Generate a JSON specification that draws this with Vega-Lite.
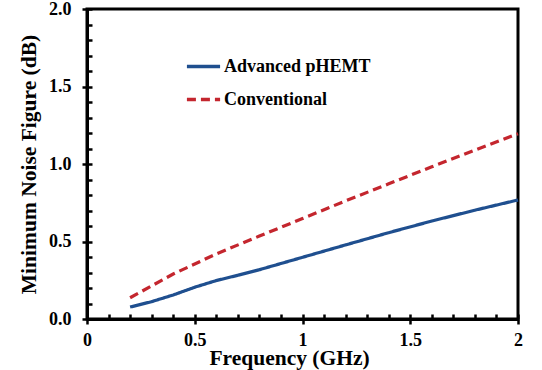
{
  "$schema": "https://vega.github.io/schema/vega-lite/v6.json",
  "autosize": "none",
  "width": 431,
  "height": 310,
  "padding": {"left": 87, "top": 9, "right": 24, "bottom": 51},
  "background": "white",
  "config": {
    "font": "Liberation Serif",
    "view": {"stroke": "black", "strokeWidth": 3},
    "axis": {"grid": false, "domainColor": "black", "tickColor": "black", "labelColor": "black", "titleColor": "black"}
  },
  "data": {
    "values": [
      {"f": 0.2, "nf": 0.077, "s": "Advanced pHEMT"},
      {"f": 0.3, "nf": 0.112, "s": "Advanced pHEMT"},
      {"f": 0.4, "nf": 0.155, "s": "Advanced pHEMT"},
      {"f": 0.5, "nf": 0.205, "s": "Advanced pHEMT"},
      {"f": 0.6, "nf": 0.248, "s": "Advanced pHEMT"},
      {"f": 0.7, "nf": 0.282, "s": "Advanced pHEMT"},
      {"f": 0.8, "nf": 0.318, "s": "Advanced pHEMT"},
      {"f": 1.0, "nf": 0.398, "s": "Advanced pHEMT"},
      {"f": 1.2, "nf": 0.478, "s": "Advanced pHEMT"},
      {"f": 1.4, "nf": 0.557, "s": "Advanced pHEMT"},
      {"f": 1.6, "nf": 0.632, "s": "Advanced pHEMT"},
      {"f": 1.8, "nf": 0.702, "s": "Advanced pHEMT"},
      {"f": 2.0, "nf": 0.768, "s": "Advanced pHEMT"},
      {"f": 0.2, "nf": 0.137, "s": "Conventional"},
      {"f": 0.4, "nf": 0.29, "s": "Conventional"},
      {"f": 0.6, "nf": 0.42, "s": "Conventional"},
      {"f": 0.8, "nf": 0.535, "s": "Conventional"},
      {"f": 1.0, "nf": 0.648, "s": "Conventional"},
      {"f": 1.2, "nf": 0.762, "s": "Conventional"},
      {"f": 1.4, "nf": 0.872, "s": "Conventional"},
      {"f": 1.6, "nf": 0.982, "s": "Conventional"},
      {"f": 1.8, "nf": 1.09, "s": "Conventional"},
      {"f": 2.0, "nf": 1.195, "s": "Conventional"}
    ]
  },
  "layer": [
    {
      "mark": {"type": "point", "opacity": 0},
      "encoding": {
        "x": {"field": "f", "type": "quantitative",
          "scale": {"domain": [0, 2], "nice": false},
          "axis": {"orient": "bottom", "values": [0,0.1,0.2,0.3,0.4,0.5,0.6,0.7,0.8,0.9,1,1.1,1.2,1.3,1.4,1.5,1.6,1.7,1.8,1.9,2], "labels": false, "domain": false, "title": null, "offset": -5, "tickSize": 5, "tickWidth": 2.5}},
        "y": {"field": "nf", "type": "quantitative",
          "scale": {"domain": [0, 2], "nice": false},
          "axis": {"orient": "left", "values": [0,0.1,0.2,0.3,0.4,0.5,0.6,0.7,0.8,0.9,1,1.1,1.2,1.3,1.4,1.5,1.6,1.7,1.8,1.9,2], "labels": false, "domain": false, "title": null, "offset": -5, "tickSize": 5, "tickWidth": 2.5}}
      }
    },
    {
      "mark": {"type": "line", "strokeWidth": 3.2},
      "encoding": {
        "x": {"field": "f", "type": "quantitative",
          "axis": {"orient": "bottom", "values": [0, 0.5, 1, 1.5, 2], "format": "~g", "domainWidth": 3, "tickSize": 5, "tickWidth": 2.5,
            "labelFontSize": 18, "labelFontWeight": "bold", "labelPadding": 7, "labelFlush": false,
            "title": "Frequency (GHz)", "titleFontSize": 21.5, "titleFontWeight": "bold", "titlePadding": -2, "titleX": 202}},
        "y": {"field": "nf", "type": "quantitative",
          "axis": {"orient": "left", "values": [0, 0.5, 1, 1.5, 2], "format": ".1f", "domainWidth": 3, "tickSize": 5, "tickWidth": 2.5,
            "labelFontSize": 18, "labelFontWeight": "bold", "labelPadding": 11,
            "title": "Minimum Noise  Figure (dB)", "titleFontSize": 21.5, "titleFontWeight": "bold", "titlePadding": 8}},
        "color": {"field": "s", "type": "nominal",
          "scale": {"domain": ["Advanced pHEMT", "Conventional"], "range": ["#1f4f8f", "#c4262e"]},
          "legend": {"title": null, "orient": "none", "legendX": 98, "legendY": 39,
            "symbolType": "stroke", "symbolStrokeWidth": 3.5, "symbolSize": 1100,
            "labelFontSize": 18, "labelFontWeight": "bold", "labelColor": "black", "labelOffset": 2, "rowPadding": 5}},
        "strokeDash": {"field": "s", "type": "nominal",
          "scale": {"domain": ["Advanced pHEMT", "Conventional"], "range": [[1, 0], [9, 5]]},
          "legend": null}
      }
    }
  ],
  "resolve": {"axis": {"x": "independent", "y": "independent"}}
}
